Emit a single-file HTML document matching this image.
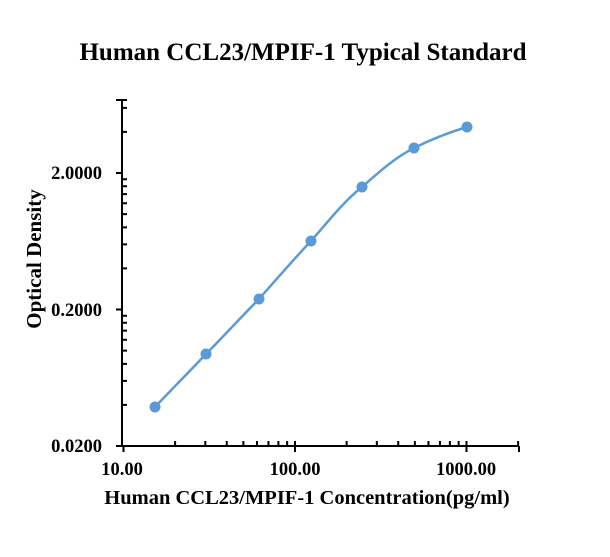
<!DOCTYPE html>
<html><head><style>
body{margin:0;background:#fff;}
svg{display:block;font-family:"Liberation Serif",serif;}
</style></head><body>
<svg id="s" width="610" height="557" viewBox="0 0 610 557" xmlns="http://www.w3.org/2000/svg">
<text x="303" y="60" text-anchor="middle" font-size="25" font-weight="bold">Human CCL23/MPIF-1 Typical Standard</text>
<text x="307" y="504" text-anchor="middle" font-size="20.5" font-weight="bold">Human CCL23/MPIF-1 Concentration(pg/ml)</text>
<text transform="translate(41,259) rotate(-90)" text-anchor="middle" font-size="21" font-weight="bold">Optical Density</text>
<g font-size="18.5" font-weight="bold" text-anchor="end">
<text x="102" y="179">2.0000</text>
<text x="102" y="316">0.2000</text>
<text x="102" y="452">0.0200</text>
</g>
<g font-size="18.5" font-weight="bold" text-anchor="middle">
<text x="122" y="475">10.00</text>
<text x="295" y="475">100.00</text>
<text x="466" y="475">1000.00</text>
</g>
<g id="ax" stroke="#000" stroke-width="2" fill="none"></g>
<path d="M155,407 C172,389 189,372 206,354 C224,336 241,317 259,299 C276,280 293,260 311,241 C328,222 343,202 362,187 C380,171 396,157 414,148 C432,139 450,132 467,127" stroke="#5b9bd5" stroke-width="2.5" fill="none"/>
<g fill="#5b9bd5">
<circle cx="155" cy="407" r="5.5"/><circle cx="206" cy="354" r="5.5"/><circle cx="259" cy="299" r="5.5"/><circle cx="311" cy="241" r="5.5"/><circle cx="362" cy="187" r="5.5"/><circle cx="414" cy="148" r="5.5"/><circle cx="467" cy="127" r="5.5"/>
</g>
</svg>
<script>
var g=document.getElementById('ax'),d='M122,100 L122,446 L519,446';
var X0=123.5,DX=171.5,Y0=446,DY=136.5;
for(var e=0;e<3;e++){for(var k=1;k<=10;k++){var v=Math.pow(10,e)*k;var x=X0+DX*Math.log10(v);if(x>520)break;
 if(k==1||k==10&&e==2){d+=' M'+x+',446 L'+x+',452';}else d+=' M'+x+',446 L'+x+',441';}}
d+=' M519,446 L519,452';
for(var e=0;e<3;e++){for(var k=1;k<=9;k++){var v=0.02*Math.pow(10,e)*k;var y=Y0-DY*Math.log10(v/0.02);if(y<99)break;
 if(k==1){d+=' M116,'+y+' L122,'+y;}else d+=' M122,'+y+' L127,'+y;}}
d+=' M116,100 L127,100';
var p=document.createElementNS('http://www.w3.org/2000/svg','path');p.setAttribute('d',d);g.appendChild(p);
</script>
</body></html>
